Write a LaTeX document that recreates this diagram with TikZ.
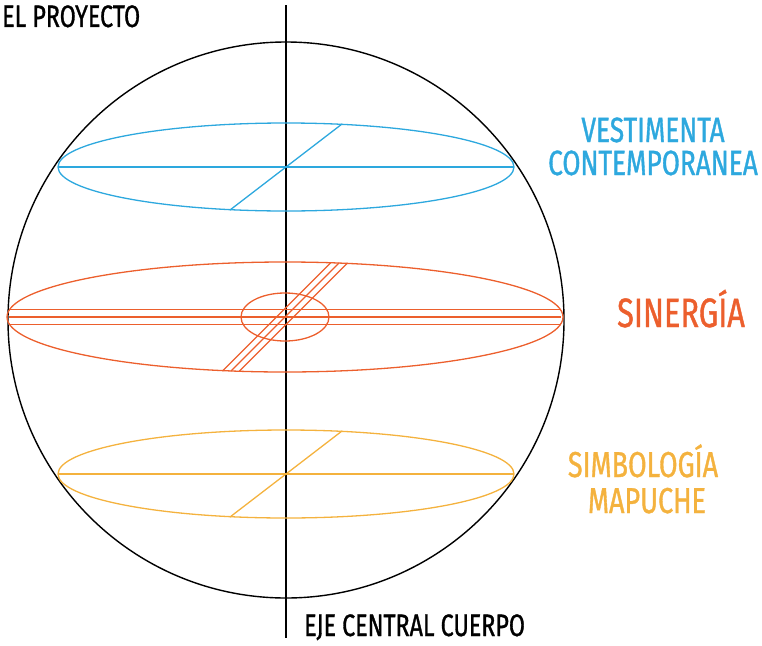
\documentclass[tikz,border=0pt]{standalone}
\usepackage{fontspec}
\setmainfont[FakeStretch=0.75, FakeBold=1]{Fira Sans}
\usetikzlibrary{calc, positioning}

\definecolor{vestblue}{RGB}{45,168,222}
\definecolor{sinorange}{RGB}{236,95,45}
\definecolor{simbyellow}{RGB}{244,178,62}

\begin{document}
\begin{tikzpicture}[x=1pt,y=-1pt]
\useasboundingbox (0,0) rectangle (762,645);
\coordinate (O) at (286,320);
\coordinate (Top) at (286,5);
\coordinate (Bot) at (286,638);
\coordinate (B) at (286,167);
\coordinate (S) at (285,317);
\coordinate (Y) at (286,474);

% esfera y eje
\draw[line width=1.4pt] (O) circle [radius=278];
\draw[line width=1.8pt] (Top) -- (Bot);

% vestimenta
\draw[vestblue, line width=1.3pt] (B) ellipse [x radius=228, y radius=44];
\draw[vestblue, line width=1.3pt] ($(B)+(-228,0)$) -- ($(B)+(228,0)$);
\draw[vestblue, line width=1.3pt] (230,210) -- (342,124);

% sinergia
\draw[sinorange, line width=1.3pt] (S) ellipse [x radius=278, y radius=55];
\draw[sinorange, line width=1.3pt] (S) ellipse [x radius=44, y radius=24];
\foreach \dy in {-7.5,0,7.5}
  \draw[sinorange, line width=1.3pt] ($(S)+(-276,\dy)$) -- ($(S)+(276,\dy)$);
\foreach \dx in {-8.5,0,8.5}
  \draw[sinorange, line width=1.3pt] ($(S)+(-54+\dx,54)$) -- ($(S)+(54+\dx,-54)$);

% simbologia
\draw[simbyellow, line width=1.3pt] (Y) ellipse [x radius=228, y radius=44];
\draw[simbyellow, line width=1.3pt] ($(Y)+(-228,0)$) -- ($(Y)+(228,0)$);
\draw[simbyellow, line width=1.3pt] (230,517) -- (342,431);

% textos
\node[anchor=base west, inner sep=0pt, font=\fontsize{31}{34}\selectfont] (proy) at (2,27) {EL PROYECTO};
\node[anchor=base west, inner sep=0pt, font=\fontsize{31}{34}\selectfont] (eje) at (304,636) {EJE CENTRAL CUERPO};
\node[anchor=base, inner sep=0pt, text=vestblue, font=\fontsize{35}{38}\selectfont] (vest) at (653,142) {VESTIMENTA};
\node[anchor=base, inner sep=0pt, text=vestblue, font=\fontsize{35}{38}\selectfont] (cont) at (653,175) {CONTEMPORANEA};
\node[anchor=base, inner sep=0pt, text=sinorange, font=\fontsize{41}{44}\selectfont] (sin) at (681,327) {SINERGÍA};
\node[anchor=base, inner sep=0pt, text=simbyellow, font=\fontsize{36}{37}\selectfont] (simb) at (643,477) {SIMBOLOGÍA};
\node[anchor=base, inner sep=0pt, text=simbyellow, font=\fontsize{36}{37}\selectfont] (mapu) at (647,513) {MAPUCHE};
\end{tikzpicture}
\end{document}
